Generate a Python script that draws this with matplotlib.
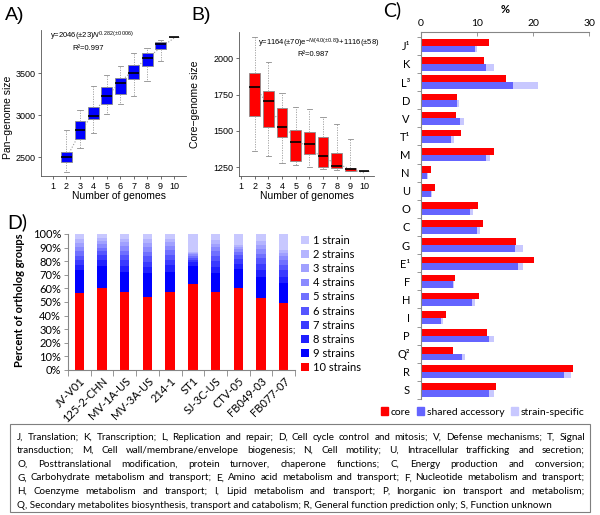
import numpy as np
import matplotlib
matplotlib.use('Agg')
import matplotlib.pyplot as plt
from matplotlib.patches import Patch, Rectangle

plt.rcParams['font.family'] = 'Liberation Sans'
plt.rcParams['mathtext.fontset'] = 'custom'
plt.rcParams['mathtext.rm'] = 'Liberation Sans'
plt.rcParams['mathtext.it'] = 'Liberation Sans:italic'

##########
# Data   #
##########

# A) pan-genome box stats
pan_n = [2, 3, 4, 5, 6, 7, 8, 9, 10]
pan_whislo = [2320, 2608, 2780, 3008, 3132, 3232, 3400, 3648, 3928]
pan_q1 = [2440, 2720, 2948, 3132, 3252, 3428, 3580, 3788, 3928]
pan_med = [2500, 2820, 2992, 3224, 3385, 3500, 3680, 3840, 3928]
pan_q3 = [2560, 2928, 3092, 3332, 3444, 3600, 3740, 3872, 3928]
pan_whishi = [2820, 3060, 3348, 3476, 3580, 3740, 3800, 3890, 3928]
pan_fit = [2488, 2789, 3024, 3221, 3391, 3542, 3677, 3801, 3916]

# B) core-genome box stats
core_whislo = [1365, 1328, 1282, 1266, 1250, 1236, 1232, 1225, 1222]
core_q1 = [1603, 1530, 1461, 1296, 1342, 1255, 1248, 1227, 1222]
core_med = [1805, 1706, 1525, 1422, 1408, 1328, 1261, 1236, 1222]
core_q3 = [1897, 1775, 1661, 1507, 1491, 1461, 1346, 1245, 1222]
core_whishi = [2145, 1973, 1759, 1668, 1651, 1599, 1546, 1443, 1222]
core_fit = [1822, 1666, 1544, 1449, 1376, 1318, 1274, 1239, 1212]

# C) COG categories (%)
cog_labels = ['J¹', 'K', 'L³', 'D', 'V', 'T¹', 'M', 'N', 'U', 'O', 'C', 'G',
              'E¹', 'F', 'H', 'I', 'P', 'Q²', 'R', 'S']
cog_core = [12.2, 11.3, 15.1, 6.5, 6.2, 7.1, 13.1, 1.8, 2.55, 10.2, 11.0, 17.0,
            20.1, 6.1, 10.4, 4.5, 11.8, 5.8, 27.2, 13.4]
cog_shared = [9.7, 11.6, 16.5, 6.4, 7.0, 5.4, 11.6, 1.0, 1.8, 8.7, 10.0, 16.8,
              17.3, 5.7, 9.1, 3.5, 12.2, 7.3, 25.5, 12.2]
cog_specific = [10.0, 13.1, 20.9, 6.8, 7.7, 5.9, 12.4, 1.25, 2.0, 9.3, 10.6, 18.3,
                18.2, 5.9, 9.7, 3.9, 13.0, 7.8, 26.8, 13.1]

# D) ortholog groups per strain, columns = 10 strains, 9 strains, ..., 1 strain (%)
strains = ['JV-V01', '125-2-CHN', 'MV-1A-US', 'MV-3A-US', '214-1', 'ST1',
           'SJ-3C-US', 'CTV-05', 'FB049-03', 'FB077-07']
groups = ['10 strains', '9 strains', '8 strains', '7 strains', '6 strains',
          '5 strains', '4 strains', '3 strains', '2 strains', '1 strain']
ortho_pct = [
    [56.4, 17.1, 4.0, 3.5, 3.0, 3.5, 3.0, 3.0, 3.0, 3.5],
    [60.0, 16.7, 4.0, 3.5, 3.0, 2.8, 2.5, 2.5, 2.0, 3.0],
    [57.6, 14.7, 4.5, 4.0, 3.5, 3.5, 3.2, 3.0, 2.5, 3.5],
    [53.9, 17.1, 4.5, 4.0, 4.0, 3.5, 3.5, 3.0, 3.0, 3.5],
    [57.6, 14.4, 5.0, 4.0, 3.5, 3.5, 3.0, 3.0, 2.5, 3.5],
    [63.0, 13.7, 2.5, 2.0, 1.5, 1.3, 1.0, 0.8, 1.2, 13.0],
    [57.6, 13.4, 4.5, 4.5, 4.0, 3.5, 3.0, 2.5, 2.5, 4.5],
    [60.5, 13.5, 4.0, 3.5, 3.0, 2.5, 2.0, 1.5, 1.5, 8.0],
    [52.7, 15.9, 5.0, 4.5, 4.0, 3.5, 3.5, 3.0, 3.0, 4.9],
    [49.0, 14.7, 5.0, 4.5, 4.0, 3.5, 3.0, 2.5, 2.0, 11.8],
]
group_colors = ['#FF0000', '#0000FF', '#2020FF', '#3A3AFF', '#5555FF',
                '#7070FF', '#8A8AFF', '#A0A0FF', '#B4B4FF', '#C8C8FF']

legend_lines = [
    'J, Translation; K, Transcription; L, Replication and repair; D, Cell cycle control and mitosis; V, Defense mechanisms; T, Signal',
    'transduction; M, Cell wall/membrane/envelope biogenesis; N, Cell motility; U, Intracellular trafficking and secretion;',
    'O, Posttranslational modification, protein turnover, chaperone functions; C, Energy production and conversion;',
    'G, Carbohydrate metabolism and transport; E, Amino acid metabolism and transport; F, Nucleotide metabolism and transport;',
    'H, Coenzyme metabolism and transport; I, Lipid metabolism and transport; P, Inorganic ion transport and metabolism;',
    'Q, Secondary metabolites biosynthesis, transport and catabolism; R, General function prediction only; S, Function unknown',
]

W, H = 600., 515.
def px_box(l, t, r, b):
  return [l/W, 1-b/H, (r-l)/W, (b-t)/H]

fig = plt.figure(figsize=(6, 5.15), dpi=100)
axcol = '#555555'
calib = 'Lato'

###############
# A) and B)   #
###############

def box_panel(ax, lo, q1, med, q3, hi, fit, col):
  stats = [dict(whislo=lo[i], q1=q1[i], med=med[i], q3=q3[i], whishi=hi[i], fliers=[])
           for i in range(len(pan_n))]
  ax.plot(pan_n, fit, ':', color='#9a9a9a', lw=0.8, zorder=1)
  ax.bxp(stats, positions=pan_n, widths=0.8, patch_artist=True, showfliers=False,
         capwidths=0.4,
         boxprops=dict(facecolor=col, edgecolor='#8c8c8c', lw=0.6),
         medianprops=dict(color='k', lw=1.2),
         whiskerprops=dict(color='#9a9a9a', ls=(0, (1.5, 1.5)), lw=0.6),
         capprops=dict(color='#8c8c8c', lw=0.6))
  for s in ['top', 'right']:
    ax.spines[s].set_visible(False)
  for s in ['left', 'bottom']:
    ax.spines[s].set_color(axcol)
    ax.spines[s].set_linewidth(0.6)
  ax.set_xticks(range(1, 11))
  ax.set_xticklabels([str(i) for i in range(1, 11)])
  ax.tick_params(length=2.5, width=0.6, color=axcol, labelsize=6.5, pad=1.5)

axA = fig.add_axes(px_box(41, 30, 186, 176))
box_panel(axA, pan_whislo, pan_q1, pan_med, pan_q3, pan_whishi, pan_fit, '#0000FF')
axA.set_xlim(0.107, 10.89)
axA.set_ylim(2274, 4012)
axA.set_yticks([2500, 3000, 3500])
axA.text(50/W, 1-36/H, r'y=2046(±23)$N^{0.282(\pm0.006)}$', transform=fig.transFigure,
         fontsize=5.5, va='center')
axA.text(88/W, 1-48/H, 'R²=0.997', transform=fig.transFigure, fontsize=5.5,
         ha='center', va='center')

axB = fig.add_axes(px_box(239, 32, 374, 176))
box_panel(axB, core_whislo, core_q1, core_med, core_q3, core_whishi, core_fit, '#FF0000')
axB.set_xlim(0.854, 10.73)
axB.set_ylim(1190, 2181)
axB.set_yticks([1250, 1500, 1750, 2000])
axB.text(319/W, 1-43/H, r'y=1164(±70)e$^{-N/(4.0(\pm0.8))}$+1116(±58)',
         transform=fig.transFigure, fontsize=5.5, ha='center', va='center')
axB.text(313/W, 1-54/H, 'R²=0.987', transform=fig.transFigure, fontsize=5.5,
         ha='center', va='center')

fig.text(119/W, 1-196/H, 'Number of genomes', fontsize=7.5, ha='center', va='center')
fig.text(307/W, 1-196/H, 'Number of genomes', fontsize=7.5, ha='center', va='center')
fig.text(8/W, 1-117/H, 'Pan\u2212genome size', fontsize=7.5, rotation=90, ha='center', va='center')
fig.text(195/W, 1-104/H, 'Core\u2212genome size', fontsize=7.5, rotation=90, ha='center', va='center')
fig.text(5/W, 1-15/H, 'A)', fontsize=14, va='center')
fig.text(191/W, 1-15/H, 'B)', fontsize=14, va='center')

########
# C)   #
########

axC = fig.add_axes(px_box(421, 32, 589, 399))
y = np.arange(len(cog_labels))
bh = 0.365
axC.barh(y - bh/2, cog_core, height=bh, color='#FF0000', label='core')
axC.barh(y + bh/2, cog_specific, height=bh, color='#C8C8FF', label='strain-specific')
axC.barh(y + bh/2, cog_shared, height=bh, color='#6464FF', label='shared accessory')
axC.set_ylim(19.345, -0.767)
axC.set_xlim(0, 30)
axC.set_yticks(y)
axC.set_yticklabels(cog_labels)
axC.set_yticks(np.arange(-0.5, 20, 1), minor=True)
axC.xaxis.tick_top()
axC.set_xticks([0, 10, 20, 30])
axC.xaxis.set_label_position('top')
axC.set_xlabel('%', fontsize=8, fontweight='bold', family=calib, labelpad=4)
for s in ['right', 'bottom']:
  axC.spines[s].set_visible(False)
for s in ['top', 'left']:
  axC.spines[s].set_color('#868686')
  axC.spines[s].set_linewidth(0.8)
axC.tick_params(axis='y', which='major', length=0, labelsize=8, labelfontfamily=calib, pad=8)
axC.tick_params(axis='y', which='minor', length=3, width=0.6, color='#868686', direction='out')
axC.tick_params(axis='x', length=3, width=0.6, color='#868686', direction='in',
                labelsize=7.5, labelfontfamily=calib, pad=3)
fig.text(383/W, 1-10/H, 'C)', fontsize=14, family=calib, va='center')

handles = [Patch(color='#FF0000'), Patch(color='#6464FF'), Patch(color='#C8C8FF')]
fig.legend(handles, ['core', 'shared accessory', 'strain-specific'], loc='center left',
           bbox_to_anchor=(381/W, 1-412/H), ncol=3, frameon=False,
           prop={'family': calib, 'size': 7.5}, handlelength=0.7, handleheight=0.7,
           handletextpad=0.25, columnspacing=0.6, borderpad=0, borderaxespad=0)

########
# D)   #
########

axD = fig.add_axes(px_box(68, 234, 295, 370))
xs = np.arange(len(strains))
vals = np.array(ortho_pct) / 100.
bottom = np.zeros(len(strains))
bars = []
for k in range(len(groups)):
  b = axD.bar(xs, vals[:, k], bottom=bottom, width=0.41, color=group_colors[k], label=groups[k])
  bars.append(b)
  bottom += vals[:, k]
axD.set_xlim(-0.5, 9.5)
axD.set_ylim(0, 1)
axD.set_yticks(np.arange(0, 1.01, 0.1))
axD.set_yticklabels(['%d%%' % v for v in range(0, 101, 10)])
axD.set_xticks(xs)
axD.set_xticklabels(strains, rotation=45, ha='right', rotation_mode='anchor')
axD.set_xticks(np.arange(-0.5, 10, 1), minor=True)
for s in ['top', 'right']:
  axD.spines[s].set_visible(False)
for s in ['left', 'bottom']:
  axD.spines[s].set_color('#868686')
  axD.spines[s].set_linewidth(0.8)
axD.tick_params(axis='x', which='major', length=0, labelsize=8, labelfontfamily=calib, pad=4)
axD.tick_params(axis='x', which='minor', length=4, width=0.6, color='#868686')
axD.tick_params(axis='y', length=3, width=0.6, color='#868686', labelsize=8,
                labelfontfamily=calib, pad=2)
fig.text(20/W, 1-300/H, 'Percent of ortholog groups', fontsize=8, fontweight='bold',
         family=calib, rotation=90, ha='center', va='center')
fig.text(7/W, 1-222/H, 'D)', fontsize=14, family=calib, va='center')

fig.legend(bars[::-1], groups[::-1], loc='upper left', bbox_to_anchor=(301/W, 1-235/H),
           frameon=False, prop={'family': calib, 'size': 8}, handlelength=0.7,
           handleheight=0.7, handletextpad=0.4, labelspacing=0.28, borderpad=0,
           borderaxespad=0)

#####################
# Legend text box   #
#####################

fig.patches.append(Rectangle((10/W, 1-512/H), 580/W, 88/H, transform=fig.transFigure,
                             fill=False, edgecolor='#7f7f7f', lw=0.8))
fs = 7.1
renderer = fig.canvas.get_renderer()
for i, line in enumerate(legend_lines):
  yy = 1 - (437 + 13.6*i)/H
  if i == len(legend_lines) - 1:
    fig.text(17/W, yy, line, fontsize=fs, family=calib, va='center')
    continue
  words = line.split(' ')
  txts = [fig.text(0, yy, w, fontsize=fs, family=calib, va='center') for w in words]
  widths = [t.get_window_extent(renderer).width for t in txts]
  gap = (585 - 17 - sum(widths)) / (len(words) - 1)
  xpos = 17.
  for t, wd in zip(txts, widths):
    t.set_x(xpos/W)
    xpos += wd + gap

plt.savefig('out.png', dpi=100)
plt.close()
